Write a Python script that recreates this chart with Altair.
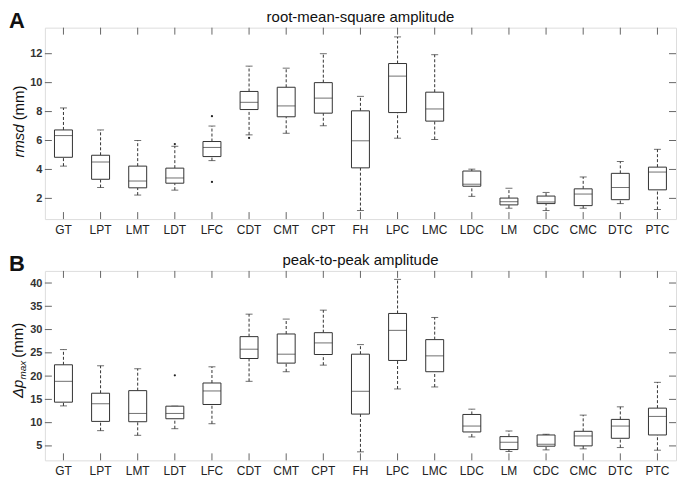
import altair as alt
import pandas as pd

cats = ["GT", "LPT", "LMT", "LDT", "LFC", "CDT", "CMT", "CPT", "FH", "LPC",
        "LMC", "LDC", "LM", "CDC", "CMC", "DTC", "PTC"]

# Panel A: root-mean-square amplitude (mm)
a_lo = [4.23, 2.75, 2.23, 2.57, 4.61, 6.39, 6.50, 7.02, 1.16, 6.16, 6.07, 2.14, 1.32, 1.16, 1.32, 1.64, 1.23]
a_q1 = [4.84, 3.32, 2.73, 3.05, 4.89, 8.14, 7.64, 7.89, 4.11, 7.93, 7.34, 2.84, 1.55, 1.64, 1.50, 1.91, 2.59]
a_med = [6.34, 4.52, 3.20, 3.41, 5.52, 8.64, 8.39, 8.93, 5.98, 10.45, 8.18, 2.98, 1.77, 1.75, 2.30, 2.75, 3.82]
a_q3 = [6.73, 4.98, 4.23, 4.09, 5.93, 9.39, 9.68, 10.00, 8.05, 11.32, 9.34, 3.89, 2.02, 2.16, 2.66, 3.73, 4.16]
a_hi = [8.25, 6.73, 6.00, 5.60, 7.00, 11.14, 11.00, 12.00, 9.05, 13.16, 11.93, 4.02, 2.70, 2.41, 3.48, 4.55, 5.39]
a_out_cat = ["LDT", "LFC", "LFC", "CDT"]
a_out_val = [5.75, 7.68, 3.14, 6.18]
a_ticks = [2, 4, 6, 8, 10, 12]
a_domain = [0.57, 13.8]

# Panel B: peak-to-peak amplitude (mm)
b_lo = [13.6, 8.28, 7.28, 8.7, 9.77, 18.88, 20.94, 22.36, 3.73, 17.24, 17.67, 6.93, 3.8, 4.15, 4.37, 4.65, 4.08]
b_q1 = [14.4, 10.27, 10.2, 10.84, 13.9, 23.78, 22.79, 24.64, 11.84, 23.36, 20.94, 8.0, 4.22, 4.94, 5.01, 6.64, 7.35]
b_med = [18.88, 14.04, 11.98, 11.98, 16.81, 25.78, 24.71, 27.13, 16.74, 29.83, 24.35, 9.27, 5.79, 5.36, 7.14, 9.27, 11.34]
b_q3 = [22.43, 16.32, 16.88, 13.54, 18.52, 28.48, 29.05, 29.33, 24.71, 33.46, 27.84, 11.76, 7.0, 7.35, 8.14, 10.7, 13.12]
b_hi = [25.7, 22.22, 21.58, 13.54, 22.0, 33.31, 32.25, 34.17, 26.77, 40.78, 32.6, 12.9, 8.21, 7.5, 11.62, 13.4, 18.66]
b_out_cat = ["LDT"]
b_out_val = [20.16]
b_ticks = [5, 10, 15, 20, 25, 30, 35, 40]
b_domain = [1.9, 42.6]

FONT = "Liberation Sans"
W = 633
INK = "#333333"
FRAME = "#666666"


def panel(lo, q1, med, q3, hi, out_cat, out_val, ticks, domain, height, letter,
          title, ytitle_parts):
    box = pd.DataFrame({"cat": cats, "lo": lo, "q1": q1, "med": med, "q3": q3, "hi": hi})
    outs = pd.DataFrame({"cat": out_cat, "val": out_val})
    tdf = pd.DataFrame({"v": ticks})
    cdf = pd.DataFrame({"cat": cats})
    one = pd.DataFrame({"k": [0]})

    xscale = alt.Scale(domain=cats, paddingInner=0, paddingOuter=0)
    xaxis = alt.Axis(title=None, labelAngle=0, ticks=False, domain=False,
                     labelFontSize=12, labelColor="#222222", labelPadding=5,
                     labelFont=FONT)
    yscale = alt.Scale(domain=domain, nice=False, zero=False)
    yaxis = alt.Axis(title=None, values=ticks, ticks=False, domain=False, grid=False,
                     labelFontSize=11, labelFontWeight="bold", labelColor="#333333",
                     labelPadding=3, labelFont=FONT)

    def X():
        return alt.X("cat:N", scale=xscale, axis=xaxis, sort=cats)

    def Y(f):
        return alt.Y(f + ":Q", scale=yscale, axis=yaxis)

    base = alt.Chart(box)
    upper = base.mark_rule(color=INK, strokeDash=[3, 2], strokeWidth=1).encode(
        x=X(), y=Y("q3"), y2="hi")
    lower = base.mark_rule(color=INK, strokeDash=[3, 2], strokeWidth=1).encode(
        x=X(), y=Y("lo"), y2="q1")
    cap_hi = base.mark_tick(color=INK, size=7, thickness=1, orient="horizontal").encode(
        x=X(), y=Y("hi"))
    cap_lo = base.mark_tick(color=INK, size=7, thickness=1, orient="horizontal").encode(
        x=X(), y=Y("lo"))
    boxes = base.mark_bar(size=18, fill="white", stroke=INK, strokeWidth=1).encode(
        x=X(), y=Y("q1"), y2="q3")
    medians = base.mark_tick(color=INK, size=18, thickness=1, orient="horizontal").encode(
        x=X(), y=Y("med"))
    points = alt.Chart(outs).mark_circle(size=5, color="#222222", opacity=1).encode(
        x=X(), y=Y("val"))

    ytl = alt.Chart(tdf).mark_rule(color=FRAME).encode(
        y=Y("v"), x=alt.value(0), x2=alt.value(7))
    ytr = alt.Chart(tdf).mark_rule(color=FRAME).encode(
        y=Y("v"), x=alt.value(W - 7), x2=alt.value(W))
    xtb = alt.Chart(cdf).mark_rule(color=FRAME).encode(
        x=X(), y=alt.value(height - 7), y2=alt.value(height))
    xtt = alt.Chart(cdf).mark_rule(color=FRAME).encode(
        x=X(), y=alt.value(0), y2=alt.value(7))

    lab = alt.Chart(one).mark_text(text=letter, font=FONT, fontSize=22, fontWeight="bold",
                                   align="left", baseline="alphabetic", color="#111111").encode(
        x=alt.value(-36), y=alt.value(0))
    ttl = alt.Chart(one).mark_text(text=title, font=FONT, fontSize=15,
                                   align="center", baseline="alphabetic", color="#111111").encode(
        x=alt.value(W / 2), y=alt.value(-6))

    layers = [ytl, ytr, xtb, xtt, upper, lower, cap_hi, cap_lo, boxes, medians, points, lab, ttl]
    for txt, style, size, xo, yo, al in ytitle_parts:
        layers.append(
            alt.Chart(one).mark_text(text=txt, font=FONT, fontSize=size, fontStyle=style,
                                     angle=270, align=al, baseline="alphabetic",
                                     color="#111111").encode(
                x=alt.value(xo), y=alt.value(yo)))

    return alt.layer(*layers).properties(width=W, height=height)


pa = panel(a_lo, a_q1, a_med, a_q3, a_hi, a_out_cat, a_out_val, a_ticks, a_domain, 192, "A",
           "root-mean-square amplitude",
           [("rmsd", "italic", 15, -21, 97, "right"),
            ("(mm)", "normal", 15, -21, 93, "left")])

pb = panel(b_lo, b_q1, b_med, b_q3, b_hi, b_out_cat, b_out_val, b_ticks, b_domain, 190, "B",
           "peak-to-peak amplitude",
           [("Δp", "italic", 15, -22, 109, "right"),
            ("max", "italic", 10, -19, 109, "left"),
            ("(mm)", "normal", 15, -22, 87, "left")])

chart = alt.vconcat(pa, pb, spacing=16).properties(
    padding={"left": 0, "top": 0, "right": 0, "bottom": 0}
).configure_view(stroke=FRAME, strokeWidth=1).configure(font=FONT)

chart.save("out.html", embed_options={"renderer": "svg", "actions": False})
